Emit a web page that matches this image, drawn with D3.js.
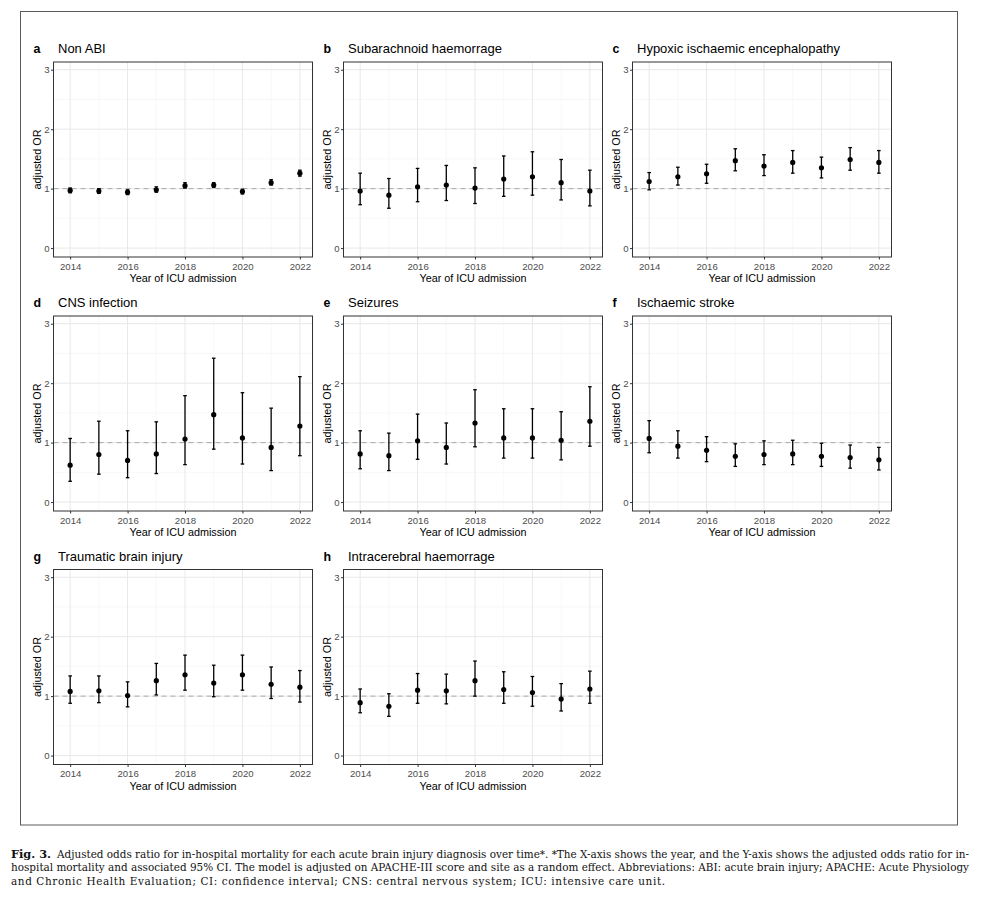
<!DOCTYPE html>
<html lang="en">
<head>
<meta charset="utf-8">
<script src="https://d3js.org/d3.v7.min.js"></script>
<style>
  body { margin: 0; background: #fff; }
</style>
</head>
<body>
<div id="fig"></div>
<script>

// years on the x axis
var years = [2014, 2015, 2016, 2017, 2018, 2019, 2020, 2021, 2022];
var xTicks = [2014, 2016, 2018, 2020, 2022];
var yTicks = [0, 1, 2, 3];

var panelLetters = ["a", "b", "c", "d", "e", "f", "g", "h"];
var panelTitles = ["Non ABI", "Subarachnoid haemorrage", "Hypoxic ischaemic encephalopathy",
                   "CNS infection", "Seizures", "Ischaemic stroke",
                   "Traumatic brain injury", "Intracerebral haemorrage"];

// adjusted OR with lower / upper 95% CI
var nonAbiOR = [0.97, 0.96, 0.94, 0.98, 1.05, 1.06, 0.95, 1.10, 1.26];
var nonAbiLo = [0.93, 0.92, 0.90, 0.94, 1.01, 1.02, 0.91, 1.06, 1.21];
var nonAbiHi = [1.01, 1.00, 0.98, 1.03, 1.10, 1.10, 0.99, 1.15, 1.31];

var sahOR = [0.96, 0.89, 1.03, 1.06, 1.01, 1.16, 1.20, 1.10, 0.96];
var sahLo = [0.73, 0.67, 0.78, 0.80, 0.75, 0.87, 0.89, 0.81, 0.71];
var sahHi = [1.26, 1.17, 1.34, 1.39, 1.35, 1.55, 1.62, 1.49, 1.31];

var hieOR = [1.12, 1.20, 1.25, 1.47, 1.38, 1.44, 1.35, 1.49, 1.44];
var hieLo = [0.98, 1.06, 1.09, 1.30, 1.22, 1.26, 1.18, 1.31, 1.26];
var hieHi = [1.27, 1.36, 1.41, 1.67, 1.57, 1.64, 1.53, 1.69, 1.64];

var cnsOR = [0.62, 0.80, 0.70, 0.81, 1.06, 1.47, 1.08, 0.92, 1.28];
var cnsLo = [0.35, 0.47, 0.41, 0.48, 0.63, 0.89, 0.64, 0.53, 0.78];
var cnsHi = [1.07, 1.36, 1.20, 1.35, 1.79, 2.42, 1.84, 1.58, 2.11];

var seizOR = [0.81, 0.78, 1.03, 0.92, 1.33, 1.08, 1.08, 1.04, 1.36];
var seizLo = [0.56, 0.53, 0.72, 0.64, 0.93, 0.74, 0.74, 0.71, 0.94];
var seizHi = [1.20, 1.16, 1.48, 1.33, 1.89, 1.57, 1.57, 1.52, 1.94];

var strokeOR = [1.07, 0.94, 0.87, 0.77, 0.80, 0.81, 0.77, 0.75, 0.71];
var strokeLo = [0.83, 0.74, 0.68, 0.60, 0.63, 0.63, 0.60, 0.57, 0.54];
var strokeHi = [1.37, 1.20, 1.10, 0.98, 1.03, 1.04, 0.99, 0.96, 0.92];

var tbiOR = [1.08, 1.09, 1.01, 1.26, 1.36, 1.22, 1.36, 1.20, 1.15];
var tbiLo = [0.88, 0.89, 0.82, 1.02, 1.10, 0.99, 1.10, 0.96, 0.90];
var tbiHi = [1.34, 1.34, 1.24, 1.55, 1.69, 1.52, 1.69, 1.49, 1.43];

var ichOR = [0.89, 0.83, 1.10, 1.09, 1.26, 1.11, 1.06, 0.95, 1.12];
var ichLo = [0.72, 0.66, 0.88, 0.87, 1.00, 0.88, 0.83, 0.75, 0.88];
var ichHi = [1.12, 1.04, 1.38, 1.37, 1.59, 1.41, 1.33, 1.21, 1.42];

var allOR = [nonAbiOR, sahOR, hieOR, cnsOR, seizOR, strokeOR, tbiOR, ichOR];
var allLo = [nonAbiLo, sahLo, hieLo, cnsLo, seizLo, strokeLo, tbiLo, ichLo];
var allHi = [nonAbiHi, sahHi, hieHi, cnsHi, seizHi, strokeHi, tbiHi, ichHi];

var sans = "'Liberation Sans', Arial, sans-serif";
var serif = "'DejaVu Serif Condensed', 'DejaVu Serif', 'Liberation Serif', serif";

var W = 981, H = 904;
var svg = d3.select("#fig").append("svg")
    .attr("width", W).attr("height", H)
    .style("font-family", sans);

svg.append("rect").attr("width", W).attr("height", H).attr("fill", "#fff");

// outer frame around the figure
svg.append("rect")
    .attr("x", 20.5).attr("y", 11.5)
    .attr("width", 937).attr("height", 813.5)
    .attr("fill", "none").attr("stroke", "#5a5a5a").attr("stroke-width", 1);

var colLeft = [53.5, 343.5, 632.5];
var rowTop = [62, 316, 569.5];
var pw = 259, ph = 195;

// scales are shared by all panels (same ranges, translated per panel)
var x = d3.scaleLinear().domain([2013.42, 2022.44]).range([0, pw]);
var y = d3.scaleLinear().domain([-0.15, 3.13]).range([ph, 0]);

var minorX = [2015, 2017, 2019, 2021];
var minorY = [0.5, 1.5, 2.5];

panelTitles.forEach(function(title, i) {
  var g = svg.append("g")
      .attr("transform", "translate(" + colLeft[i % 3] + "," + rowTop[Math.floor(i / 3)] + ")");

  // grid
  g.selectAll(".minx").data(minorX).enter().append("line")
      .attr("x1", d => x(d)).attr("x2", d => x(d)).attr("y1", 0).attr("y2", ph)
      .attr("stroke", "#f3f3f3").attr("stroke-width", 0.6);
  g.selectAll(".miny").data(minorY).enter().append("line")
      .attr("y1", d => y(d)).attr("y2", d => y(d)).attr("x1", 0).attr("x2", pw)
      .attr("stroke", "#f3f3f3").attr("stroke-width", 0.6);
  g.selectAll(".majx").data(xTicks).enter().append("line")
      .attr("x1", d => x(d)).attr("x2", d => x(d)).attr("y1", 0).attr("y2", ph)
      .attr("stroke", "#e8e8e8").attr("stroke-width", 1);
  g.selectAll(".majy").data(yTicks).enter().append("line")
      .attr("y1", d => y(d)).attr("y2", d => y(d)).attr("x1", 0).attr("x2", pw)
      .attr("stroke", "#e8e8e8").attr("stroke-width", 1);

  // reference line at OR = 1
  g.append("line")
      .attr("x1", 0).attr("x2", pw).attr("y1", y(1)).attr("y2", y(1))
      .attr("stroke", "#a8a8a8").attr("stroke-width", 1)
      .attr("stroke-dasharray", "5,4");

  var rows = years.map(function(yr, k) {
    return { year: yr, or: allOR[i][k], lo: allLo[i][k], hi: allHi[i][k] };
  });

  // error bars
  var eb = g.selectAll(".eb").data(rows).enter().append("g");
  eb.append("line")
      .attr("x1", d => x(d.year)).attr("x2", d => x(d.year))
      .attr("y1", d => y(d.lo)).attr("y2", d => y(d.hi))
      .attr("stroke", "#000").attr("stroke-width", 1.3);
  eb.append("line")
      .attr("x1", d => x(d.year) - 1.8).attr("x2", d => x(d.year) + 1.8)
      .attr("y1", d => y(d.lo)).attr("y2", d => y(d.lo))
      .attr("stroke", "#000").attr("stroke-width", 1.3);
  eb.append("line")
      .attr("x1", d => x(d.year) - 1.8).attr("x2", d => x(d.year) + 1.8)
      .attr("y1", d => y(d.hi)).attr("y2", d => y(d.hi))
      .attr("stroke", "#000").attr("stroke-width", 1.3);

  g.selectAll(".pt").data(rows).enter().append("circle")
      .attr("cx", d => x(d.year)).attr("cy", d => y(d.or))
      .attr("r", 2.6).attr("fill", "#000");

  // panel border
  g.append("rect").attr("width", pw).attr("height", ph)
      .attr("fill", "none").attr("stroke", "#333").attr("stroke-width", 1);

  // axes
  var ax = g.append("g").attr("transform", "translate(0," + ph + ")")
      .call(d3.axisBottom(x).tickValues(xTicks).tickFormat(d3.format("d")).tickSize(2.5).tickPadding(3.5));
  var ay = g.append("g")
      .call(d3.axisLeft(y).tickValues(yTicks).tickFormat(d3.format("d")).tickSize(2.5).tickPadding(1.5));
  [ax, ay].forEach(function(a) {
    a.attr("font-family", sans).attr("font-size", 9.6);
    a.select(".domain").remove();
    a.selectAll(".tick line").attr("stroke", "#333");
    a.selectAll(".tick text").attr("fill", "#4d4d4d");
  });

  g.append("text")
      .attr("x", pw / 2).attr("y", ph + 25)
      .attr("text-anchor", "middle")
      .style("font-size", "10.8px").attr("fill", "#000")
      .text("Year of ICU admission");
  g.append("text")
      .attr("transform", "translate(-13," + (ph / 2) + ") rotate(-90)")
      .attr("text-anchor", "middle")
      .style("font-size", "10.8px").attr("fill", "#000")
      .text("adjusted OR");

  // panel title
  g.append("text")
      .attr("x", -20).attr("y", -9)
      .style("font-size", "12.4px").style("font-weight", "bold").attr("fill", "#000")
      .text(panelLetters[i]);
  g.append("text")
      .attr("x", 4.5).attr("y", -9)
      .style("font-size", "13px").attr("fill", "#000")
      .text(title);
});

// caption (justified like the journal layout)
var captionLines = [
  { x: 57, y: 857.5, len: 912, text: "Adjusted odds ratio for in-hospital mortality for each acute brain injury diagnosis over time*. *The X-axis shows the year, and the Y-axis shows the adjusted odds ratio for in-" },
  { x: 11, y: 871, len: 958, text: "hospital mortality and associated 95% CI. The model is adjusted on APACHE-III score and site as a random effect. Abbreviations: ABI: acute brain injury; APACHE: Acute Physiology" },
  { x: 11, y: 884.5, len: 654, text: "and Chronic Health Evaluation; CI: confidence interval; CNS: central nervous system; ICU: intensive care unit." }
];
var cap = svg.append("g")
    .style("font-family", serif).style("font-size", "11.6px").attr("fill", "#111");
cap.append("text")
    .attr("x", 11).attr("y", 857.5)
    .attr("textLength", 40).attr("lengthAdjust", "spacingAndGlyphs")
    .style("font-weight", "bold")
    .text("Fig. 3.");
cap.selectAll(".cl").data(captionLines).enter().append("text")
    .attr("x", d => d.x).attr("y", d => d.y)
    .attr("textLength", d => d.len).attr("lengthAdjust", "spacing")
    .text(d => d.text);

</script>
</body>
</html>
